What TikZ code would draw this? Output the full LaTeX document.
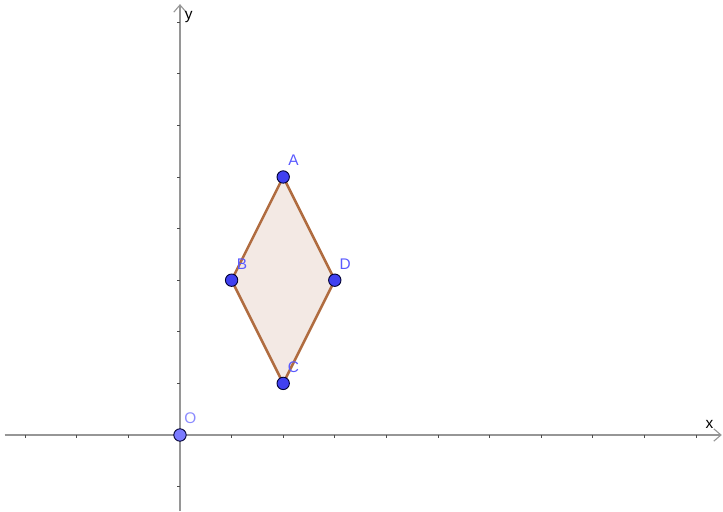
\documentclass[tikz,border=0pt]{standalone}
\usepackage{fontspec}
\setmainfont{Liberation Sans}
\usetikzlibrary{arrows.meta}
\definecolor{axisgray}{RGB}{150,150,150}
\definecolor{edgebrown}{RGB}{176,108,64}
\definecolor{fillpink}{RGB}{243,233,228}
\definecolor{ptblue}{RGB}{64,64,240}
\definecolor{lblblue}{RGB}{90,90,255}
\tikzset{
    pt/.style={circle, fill=ptblue, draw=black!80!blue, line width=0.5pt, inner sep=0pt, minimum size=2.4mm},
    lbl/.style={text=lblblue, font=\fontsize{8.5}{10}\selectfont, inner sep=0pt},
}
\begin{document}
\begin{tikzpicture}
    \useasboundingbox (-3.488,-1.473) rectangle (10.523,8.430);

    % axes
    \draw[axisgray, line width=0.6pt, -{Straight Barb[length=1.4mm,width=2.4mm]}] (-3.4,0) -- (10.5,0) coordinate (xend);
    \draw[axisgray, line width=0.6pt, -{Straight Barb[length=1.4mm,width=2.4mm]}] (0,-1.473) -- (0,8.35) coordinate (yend);
    \foreach \i in {-3,...,10} \draw[black!70, line width=0.5pt] (\i,0) -- (\i,-0.05);
    \foreach \j in {-1,...,8} \draw[black!70, line width=0.5pt] (0,\j) -- (-0.05,\j);
    \node[font=\fontsize{8.5}{10}\selectfont, inner sep=0pt] at (10.26,0.2) {x};
    \node[font=\fontsize{8.5}{10}\selectfont, inner sep=0pt] at (0.17,8.1) {y};

    % rhombus
    \coordinate (A) at (2,5);
    \coordinate (B) at (1,3);
    \coordinate (C) at (2,1);
    \coordinate (D) at (3,3);
    \filldraw[fill=fillpink, draw=edgebrown, line width=1.4pt, line join=round] (A) -- (B) -- (C) -- (D) -- cycle;

    \node[pt] (pA) at (A) {};
    \node[pt] (pB) at (B) {};
    \node[pt] (pC) at (C) {};
    \node[pt] (pD) at (D) {};
    \node[pt, fill=lblblue!80] (pO) at (0,0) {};

    \node[lbl] at (2.2,5.33) {A};
    \node[lbl] at (1.2,3.31) {B};
    \node[lbl] at (3.2,3.31) {D};
    \node[lbl] at (2.2,1.32) {C};
    \node[lbl, text=lblblue!70] at (0.2,0.33) {O};
\end{tikzpicture}
\end{document}
